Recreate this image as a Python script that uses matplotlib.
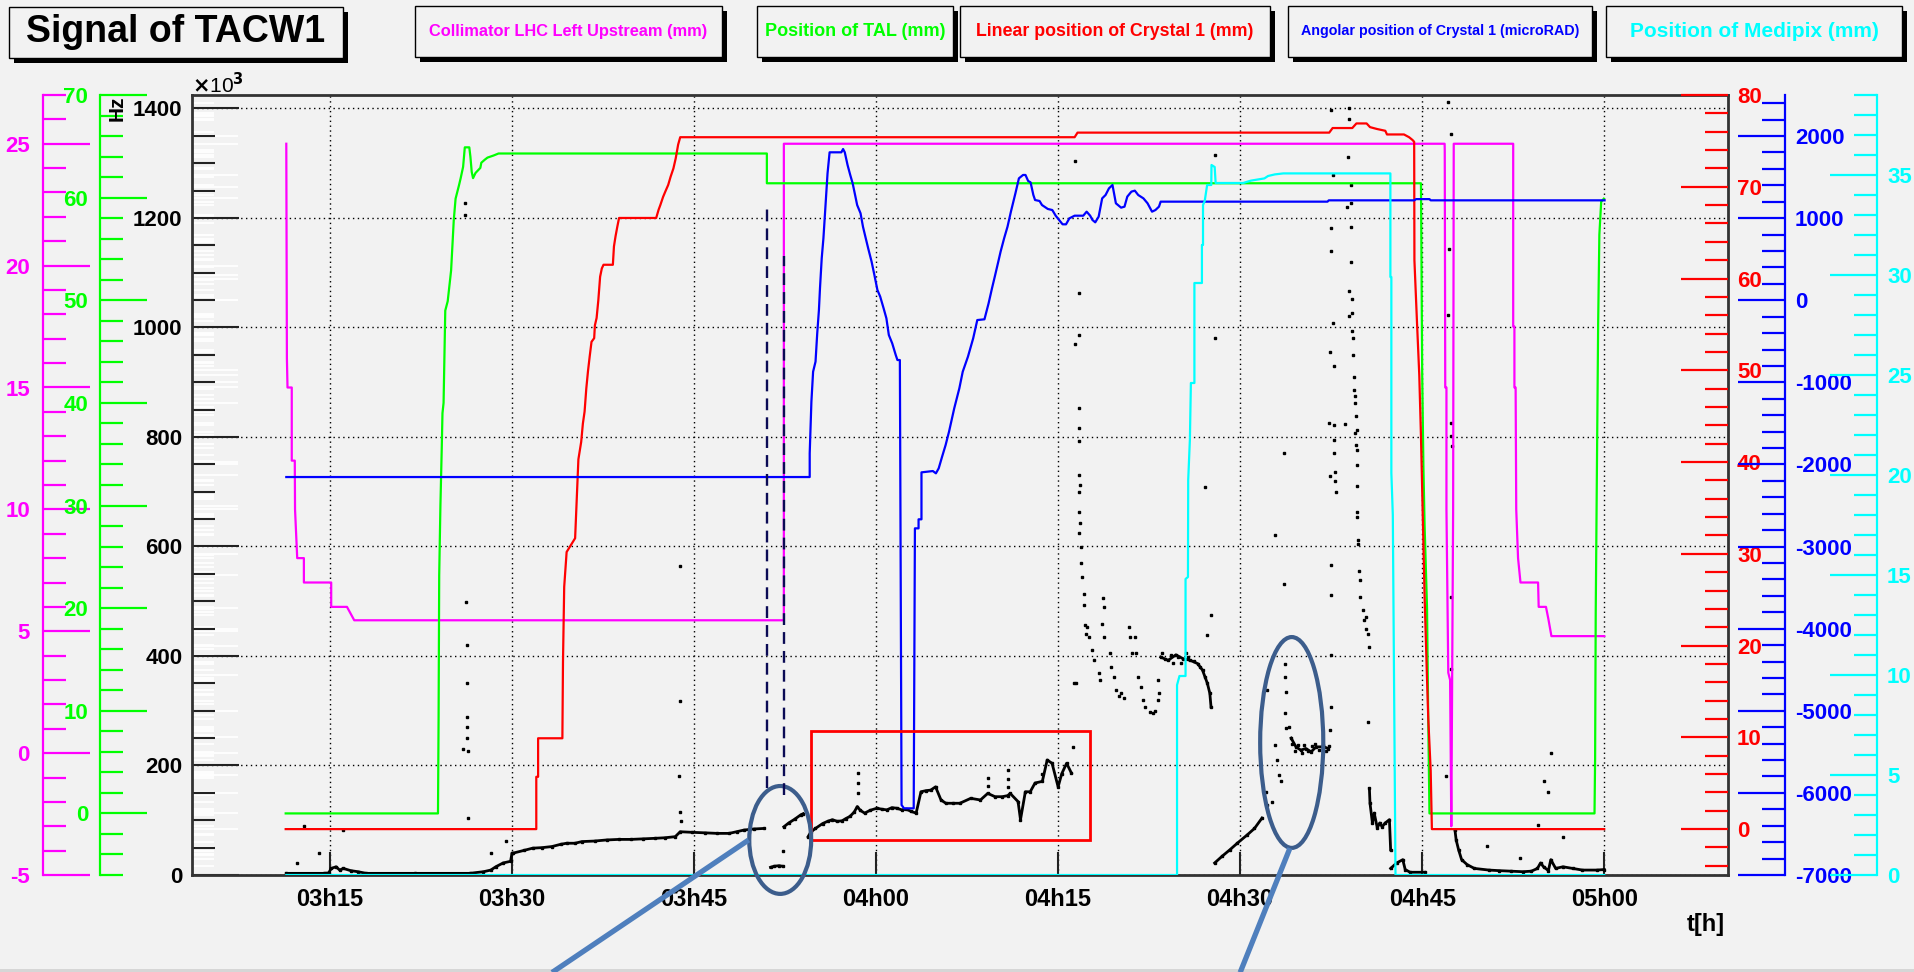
import matplotlib
matplotlib.use("Agg")
import matplotlib.pyplot as plt
from matplotlib.ticker import MultipleLocator, FormatStrFormatter, NullLocator
from matplotlib.patches import Rectangle, Ellipse
from matplotlib.lines import Line2D

plt.rcParams["font.family"] = ["Liberation Sans", "DejaVu Sans"]
plt.rcParams["font.weight"] = "bold"
plt.rcParams["axes.unicode_minus"] = False

W, H = 1915, 972
BG = "#f2f2f2"

# x axis: minutes after 03h00
time_ticks = [15, 30, 45, 60, 75, 90, 105, 120]
time_labels = ["03h15", "03h30", "03h45", "04h00", "04h15", "04h30", "04h45", "05h00"]

# Collimator LHC Left Upstream (mm)
coll_pts = [(11.4, 25.0), (11.45, 16.2), (11.5, 15.0), (11.85, 15.0), (11.85, 12.0), (12.1, 12.0),
            (12.12, 10.0), (12.3, 8.0), (12.85, 8.0), (12.85, 7.0), (15.1, 7.0), (15.1, 6.0),
            (16.4, 6.0), (17.0, 5.45), (52.4, 5.45), (52.4, 25.0), (106.85, 25.0), (106.86, 24.7),
            (106.9, 15.0), (107.0, 15.0), (107.0, 10.0), (107.15, 3.3), (107.3, 3.0), (107.4, -3.0),
            (107.55, 10.0), (107.6, 25.0), (112.5, 25.0), (112.5, 17.5), (112.6, 17.5), (112.6, 15.0),
            (112.7, 15.0), (112.75, 10.0), (112.9, 8.0), (113.1, 7.0), (114.55, 7.0), (114.6, 6.0),
            (115.2, 6.0), (115.4, 5.5), (115.65, 4.8), (120.0, 4.8)]

# Position of TAL (mm)
tal_pts = [(11.35, 0), (23.9, 0), (23.95, 9.4), (24.0, 23.2), (24.1, 30.0), (24.21, 35.6),
           (24.27, 39.0), (24.36, 40.0), (24.5, 49.0), (24.7, 49.9), (24.98, 52.9), (25.07, 54.9),
           (25.2, 57.8), (25.35, 59.9), (25.63, 61.2), (25.77, 61.9), (25.97, 63.0), (26.11, 64.9),
           (26.48, 64.9), (26.57, 64.0), (26.68, 62.5), (26.79, 61.9), (26.99, 62.4), (27.39, 62.9),
           (27.47, 63.4), (27.76, 63.7), (27.98, 63.9), (28.47, 64.1), (28.89, 64.3), (51.0, 64.3),
           (51.0, 61.4), (104.9, 61.4), (104.95, 52.5), (105.0, 42.9), (105.1, 33.8), (105.2, 28.0),
           (105.4, 20.0), (105.5, 9.1), (105.6, 0), (119.2, 0), (119.25, 5.4), (119.3, 19.5),
           (119.4, 33.8), (119.5, 47.7), (119.6, 56.4), (119.75, 59.6), (119.97, 59.9)]

# Linear position of Crystal 1 (mm)
lin_pts = [(11.35, 0), (32.0, 0), (32.0, 5.7), (32.15, 5.7), (32.15, 9.9), (34.15, 9.9),
           (34.2, 18.2), (34.3, 26.4), (34.5, 30.2), (35.2, 31.7), (35.36, 36.8), (35.47, 40.3),
           (35.70, 42.2), (35.84, 44.2), (35.98, 45.5), (36.12, 48.0), (36.26, 49.9), (36.40, 51.5),
           (36.55, 53.1), (36.77, 53.5), (36.83, 54.9), (36.97, 55.7), (37.11, 57.6), (37.26, 60.2),
           (37.40, 61.1), (37.54, 61.5), (38.31, 61.5), (38.40, 63.5), (38.53, 64.6), (38.67, 65.6),
           (38.82, 66.6), (41.88, 66.6), (42.08, 67.5), (42.22, 68.0), (42.45, 68.9), (42.64, 69.5),
           (42.87, 70.2), (43.07, 71.1), (43.30, 72.0), (43.49, 73.1), (43.69, 74.6), (43.86, 75.4),
           (76.36, 75.4), (76.6, 75.9), (97.34, 75.9), (97.62, 76.4), (99.24, 76.4), (99.58, 76.9),
           (100.42, 76.9), (100.7, 76.5), (101.26, 76.3), (101.96, 76.1), (102.1, 75.7), (103.5, 75.7),
           (103.92, 75.4), (104.2, 75.1), (104.34, 74.9), (104.36, 62.0), (104.57, 55.3), (104.76, 49.5),
           (104.9, 42.8), (105.2, 25.3), (105.4, 16.3), (105.5, 12.1), (105.7, 6.4), (105.8, 0), (120.0, 0)]

# Angolar position of Crystal 1 (microRAD)
ang_pts = [(11.4, -2153), (54.53, -2153), (54.53, -1865), (54.67, -1235), (54.81, -870), (55.01, -748),
           (55.15, -403), (55.29, -119), (55.38, 153), (55.52, 511), (55.66, 754), (55.80, 1079),
           (56.00, 1546), (56.17, 1802), (57.14, 1802), (57.28, 1842), (57.42, 1802), (57.65, 1647),
           (57.87, 1526), (58.07, 1424), (58.27, 1282), (58.44, 1160), (58.72, 1059), (58.92, 896),
           (59.15, 754), (59.35, 632), (59.63, 470), (59.86, 308), (60.11, 125), (60.34, 44),
           (60.62, -98), (60.85, -220), (61.05, -423), (61.33, -525), (61.62, -667), (61.76, -728),
           (61.96, -728), (62.1, -6147), (62.3, -6188), (63.1, -6188), (63.2, -2778), (63.5, -2778),
           (63.5, -2668), (63.74, -2668), (63.74, -2096), (64.68, -2080), (64.93, -2108), (65.16, -2047),
           (65.44, -1905), (65.73, -1763), (66.01, -1601), (66.44, -1316), (66.86, -1073), (67.14, -870),
           (67.57, -687), (68.0, -464), (68.34, -241), (68.93, -232), (69.27, -38), (69.55, 145),
           (69.78, 287), (70.07, 470), (70.26, 592), (70.55, 754), (70.83, 896), (71.11, 1079),
           (71.48, 1302), (71.77, 1485), (72.11, 1526), (72.31, 1526), (72.53, 1453), (72.73, 1436),
           (72.96, 1282), (73.10, 1221), (73.47, 1209), (73.67, 1160), (74.15, 1112), (74.52, 1099),
           (74.80, 1030), (75.08, 978), (75.37, 925), (75.65, 925), (75.93, 998), (76.36, 1030),
           (77.07, 1030), (77.35, 1079), (77.64, 1030), (77.83, 978), (78.06, 949), (78.34, 1018),
           (78.63, 1241), (78.91, 1282), (79.19, 1363), (79.48, 1404), (79.76, 1181), (80.19, 1128),
           (80.47, 1140), (80.70, 1262), (81.04, 1323), (81.32, 1335), (81.60, 1282), (82.03, 1241),
           (82.37, 1181), (82.74, 1079), (83.02, 1099), (83.31, 1140), (83.45, 1201), (97.2, 1201),
           (97.3, 1217), (104.34, 1217), (104.5, 1232), (105.6, 1232), (105.7, 1217), (120.03, 1217)]

# Position of Medipix (mm)
medi_pts = [(11.4, 0), (84.8, 0), (84.8, 9.5), (85.0, 9.95), (85.5, 9.95), (85.5, 14.8), (85.7, 14.9),
            (85.72, 19.75), (85.86, 21.8), (85.94, 24.6), (86.23, 24.6), (86.23, 29.6), (86.85, 29.6),
            (86.85, 31.5), (86.94, 31.5), (86.94, 33.5), (87.08, 33.7), (87.28, 34.5), (87.62, 34.5),
            (87.64, 35.5), (87.9, 35.4), (87.98, 34.6), (90.25, 34.6), (90.62, 34.67), (90.9, 34.72),
            (92.0, 34.83), (92.3, 34.95), (92.86, 35.03), (93.56, 35.08), (102.38, 35.08), (102.38, 29.9),
            (102.46, 29.9), (102.46, 20.1), (102.58, 18.0), (102.8, 0), (120.0, 0)]

# Signal of TACW1 (Hz x 10^3): dense runs of points
sig_runs = {
    "base": [(11.4, 3), (14.5, 3), (14.9, 4), (15.1, 12), (15.5, 15), (15.8, 9), (16.1, 12), (16.7, 8),
             (17.3, 6), (18.0, 3), (22.0, 3), (26.5, 3), (27.65, 6), (28.25, 9), (28.66, 15), (29.27, 22),
             (29.88, 25), (30.0, 40), (30.1, 40), (31.0, 45), (31.7, 49), (32.5, 50), (33.3, 52), (34.0, 56),
             (34.5, 58), (35.2, 58), (35.75, 61), (36.8, 62), (37.8, 64), (38.8, 65), (39.8, 65), (40.8, 66),
             (41.8, 67), (42.6, 68), (43.45, 70), (43.86, 79), (44.8, 78), (45.9, 77), (46.9, 76),
             (47.9, 76), (48.5, 79), (49.1, 82), (49.9, 84), (50.75, 85)],
    "gap": [(51.3, 14), (51.6, 16), (52.0, 17), (52.3, 16)],
    "rise": [(52.4, 88), (52.8, 95), (53.3, 102), (53.8, 110), (54.0, 112)],
    "box": [(54.4, 70), (54.6, 78), (55.0, 85), (55.6, 94), (56.0, 98), (56.4, 101), (56.8, 98),
            (57.2, 99), (57.5, 103), (57.85, 107), (58.2, 115), (58.45, 125), (58.7, 118), (59.06, 113),
            (59.5, 118), (60.07, 122), (60.5, 120), (60.89, 119), (61.3, 123), (61.7, 122), (62.1, 119),
            (62.5, 120), (62.9, 116), (63.3, 113), (63.7, 152), (64.1, 154), (64.5, 155), (64.9, 161),
            (65.35, 137), (65.75, 131), (66.3, 131), (66.9, 131), (67.8, 140), (68.6, 137), (69.2, 149),
            (69.8, 143), (70.4, 143), (70.85, 145), (71.05, 149), (71.7, 134), (71.9, 101), (72.3, 152),
            (72.7, 152), (73.1, 168), (73.7, 171), (74.1, 210), (74.5, 204), (75.0, 161), (75.3, 185),
            (75.7, 204), (76.1, 186)],
    "blob": [(83.45, 398), (84.07, 392), (84.7, 402), (85.3, 395), (85.9, 392), (86.5, 386), (86.9, 374),
             (87.1, 362), (87.3, 350), (87.5, 332), (87.6, 307)],
    "ramp": [(87.9, 22), (88.5, 34), (89.15, 46), (89.76, 58), (90.57, 73), (91.18, 85), (91.8, 104)],
    "cluster": [(94.2, 250), (94.6, 234), (95.0, 228), (95.4, 231), (95.85, 225), (96.26, 234),
                (96.87, 234), (97.28, 231)],
    "lump": [(100.65, 158), (100.7, 131), (100.9, 95), (101.05, 113), (101.3, 86), (101.5, 95),
             (101.7, 88), (101.95, 95), (102.3, 101), (102.4, 46)],
    "low": [(102.4, 12), (102.9, 22), (103.4, 28), (103.6, 10), (104.0, 5), (105.2, 5)],
    "decay": [(107.7, 82), (107.8, 64), (108.0, 46), (108.25, 28), (108.7, 19), (109.3, 12), (110.5, 9),
              (111.3, 8), (112.3, 7), (113.3, 6), (114.0, 7), (114.5, 12), (114.75, 22), (115.0, 15),
              (115.4, 8), (115.6, 28), (116.0, 12), (116.6, 15), (117.4, 12), (118.2, 9), (119.4, 9),
              (120.0, 10)],
}

# Signal of TACW1: isolated points
sig_dots = [(12.3, 22), (12.85, 90), (14.1, 41), (16.1, 82),
            (26.0, 230), (26.1, 1227), (26.1, 1205), (26.2, 499), (26.25, 420), (26.25, 351), (26.25, 288),
            (26.3, 271), (26.3, 251), (26.35, 227), (26.4, 104), (28.3, 40), (29.5, 63),
            (43.8, 181), (43.86, 564), (43.86, 318), (43.86, 115), (43.9, 98), (52.37, 43),
            (58.5, 186), (58.5, 168), (58.55, 150), (69.2, 177), (69.2, 163), (70.85, 192), (70.9, 176),
            (70.9, 160), (73.7, 185), (76.2, 234),
            (76.36, 1303), (76.7, 1063), (76.7, 987), (76.36, 970), (76.7, 853), (76.7, 816), (76.7, 792),
            (76.7, 731), (76.8, 713), (76.75, 700), (76.7, 663), (76.8, 642), (76.7, 624), (76.9, 599),
            (76.9, 569), (76.95, 545), (77.1, 514), (77.1, 493), (77.2, 456), (77.3, 441), (76.3, 350),
            (76.5, 350), (77.36, 453), (77.56, 435), (77.76, 411), (77.97, 393), (78.37, 368), (78.46, 356),
            (78.7, 505), (78.78, 490), (78.58, 459), (78.78, 435), (79.27, 405), (79.39, 380), (79.59, 362),
            (79.8, 338), (80.0, 326), (80.2, 332), (80.4, 323), (80.8, 453), (80.9, 435), (81.1, 405),
            (81.3, 435), (81.4, 405), (81.6, 362), (81.8, 344), (82.0, 319), (82.2, 307), (82.6, 298),
            (82.8, 295), (83.0, 300), (83.25, 356), (83.3, 332), (83.25, 319),
            (83.6, 405), (83.8, 395), (84.3, 402), (84.5, 388), (84.9, 398), (85.1, 388), (85.5, 405),
            (85.7, 398), (86.2, 390), (86.7, 380), (87.3, 438), (87.6, 475), (87.1, 708), (87.9, 981),
            (87.9, 1315),
            (92.1, 152), (92.2, 128), (92.6, 134), (92.9, 237), (93.0, 210), (93.2, 183), (93.4, 171),
            (93.6, 532), (93.7, 295), (93.7, 362), (93.7, 385), (93.8, 268), (93.8, 335), (92.9, 620),
            (92.2, 337), (94.0, 271), (93.6, 771),
            (94.3, 240), (94.5, 226), (94.8, 238), (95.1, 222), (95.3, 238), (95.6, 226), (95.9, 236),
            (96.2, 240), (96.5, 228), (96.8, 238), (97.1, 226), (97.3, 236),
            (97.48, 1397), (97.62, 1278), (97.48, 1181), (97.48, 1139), (97.62, 1008), (97.4, 955),
            (97.76, 929), (97.34, 826), (97.76, 822), (97.76, 795), (97.76, 771), (97.4, 728), (97.84, 736),
            (97.84, 719), (97.9, 700), (97.45, 566), (97.5, 511), (97.45, 402), (97.45, 307), (97.4, 265),
            (99.0, 1400), (99.0, 1380), (98.9, 1312), (99.1, 1260), (99.1, 1227), (98.8, 1219),
            (99.15, 1184), (99.1, 1120), (99.0, 1066), (99.2, 1052), (99.0, 1021), (99.2, 1026),
            (99.25, 994), (99.3, 981), (99.3, 950), (99.35, 909), (99.4, 886), (99.45, 874), (99.5, 862),
            (99.55, 838), (98.6, 824), (99.6, 813), (99.45, 807), (99.55, 786), (99.6, 777), (99.6, 748),
            (99.6, 711), (99.6, 663), (99.65, 654), (99.7, 611), (99.7, 605), (99.8, 556), (99.85, 538),
            (99.9, 508), (100.1, 484), (100.2, 465), (100.4, 450), (100.5, 441), (100.6, 417),
            (100.4, 472), (100.5, 280),
            (107.0, 180), (107.1, 1412), (107.4, 1353), (107.2, 1144), (107.1, 1022), (107.4, 826),
            (107.4, 801), (107.45, 783), (107.4, 508), (107.4, 377), (110.3, 53), (113.1, 31),
            (114.55, 92), (115.0, 171), (115.4, 152), (115.6, 222), (116.6, 70)]

# annotations (time, Hz x 10^3)
dash_lines = [(51.0, 158, 1220), (52.45, 146, 1131)]
box_corners = (54.6, 64, 77.6, 263)
ellipses = [(52.1, 64, 5.1, 197), (94.25, 242, 5.2, 385)]
pointers = [((49.5, 64), (33.3, -178)), ((94.1, 49), (90.0, -178))]

# the y scales: (lo, hi, major, minor)
scale_coll = (-5, 27, 5, 1)
scale_tal = (-6, 70, 10, 2)
scale_lin = (-5, 80, 10, 2)
scale_ang = (-7000, 2500, 1000, 200)
scale_medi = (0, 39, 5, 1)


def fx(x):
    return x / W


def fy(y):
    return 1 - y / H


fig = plt.figure(figsize=(W / 100, H / 100), dpi=100, facecolor=BG)
rect = [192 / W, (H - 875) / H, 1536 / W, 780 / H]

# white tick marks showing through along the left frame
for lo, hi, maj, mnr in [scale_coll, scale_tal, scale_lin, scale_ang, scale_medi]:
    g = fig.add_axes(rect, facecolor="none")
    g.set_ylim(lo, hi)
    g.yaxis.set_major_locator(MultipleLocator(maj))
    g.yaxis.set_minor_locator(MultipleLocator(mnr))
    g.tick_params(axis="y", which="both", direction="in", color="white", width=1.3,
                  labelleft=False, right=False)
    g.tick_params(axis="y", which="major", length=33)
    g.tick_params(axis="y", which="minor", length=16)
    g.xaxis.set_visible(False)
    for s in g.spines.values():
        s.set_visible(False)

ax = fig.add_axes(rect, facecolor="none")
ax.set_xlim(3.63, 130.2)
ax.set_ylim(0, 1424.4)

for name, pts in sig_runs.items():
    t, v = zip(*pts)
    ax.plot(t, v, color="black", lw=2.0, marker="s", ms=1.8)
t, v = zip(*sig_dots)
ax.plot(t, v, linestyle="none", color="black", marker="s", ms=2.0)

ax.set_xticks(time_ticks)
ax.set_xticklabels(time_labels)
ax.xaxis.set_minor_locator(NullLocator())
ax.yaxis.set_major_locator(MultipleLocator(200))
ax.yaxis.set_minor_locator(MultipleLocator(50))
ax.yaxis.set_major_formatter(FormatStrFormatter("%d"))
ax.grid(True, which="major", color="black", linestyle=(0, (1, 2.5)), linewidth=1.0)
ax.tick_params(axis="both", which="both", direction="in", color="#222222", width=1.5,
               top=False, right=False)
ax.tick_params(axis="y", which="major", length=33.5, pad=7, labelsize=16)
ax.tick_params(axis="y", which="minor", length=16.5)
ax.tick_params(axis="x", which="major", length=16.5, pad=9, labelsize=17)
for s in ax.spines.values():
    s.set_linewidth(2)
    s.set_color("#333333")


def side_axis(scale, color, side, pos, pad):
    lo, hi, maj, mnr = scale
    a = ax.twinx()
    a.set_ylim(lo, hi)
    for s in a.spines.values():
        s.set_visible(False)
    a.yaxis.set_ticks_position(side)
    if pos is not None:
        a.spines[side].set_visible(True)
        a.spines[side].set_position(("axes", pos))
        a.spines[side].set_color(color)
        a.spines[side].set_linewidth(1.6)
    a.yaxis.set_major_locator(MultipleLocator(maj))
    a.yaxis.set_minor_locator(MultipleLocator(mnr))
    a.yaxis.set_major_formatter(FormatStrFormatter("%d"))
    a.tick_params(axis="y", which="both", direction="in", colors=color, width=1.6,
                  labelsize=16, pad=pad)
    a.tick_params(axis="y", which="major", length=33.5)
    a.tick_params(axis="y", which="minor", length=16.5)
    return a


series = [
    (coll_pts, scale_coll, "#ff00ff", "left", (43 - 192) / 1536, 9.4),
    (tal_pts, scale_tal, "#00ff00", "left", (100 - 192) / 1536, 8.6),
    (lin_pts, scale_lin, "#ff0000", "right", None, 6.5),
    (ang_pts, scale_ang, "#0000ff", "right", (1785 - 192) / 1536, 7.2),
    (medi_pts, scale_medi, "#00ffff", "right", (1877 - 192) / 1536, 7.2),
]
for pts, scale, color, side, pos, pad in series:
    a = side_axis(scale, color, side, pos, pad)
    t, v = zip(*pts)
    a.plot(t, v, color=color, lw=1.6)

# annotations drawn on top of everything
for t, lo, hi in dash_lines:
    fig.add_artist(Line2D([t, t], [lo, hi], transform=ax.transData, color="#0b0b55",
                          lw=1.7, linestyle=(0, (5, 3))))
t0, v0, t1, v1 = box_corners
fig.add_artist(Rectangle((t0, v0), t1 - t0, v1 - v0, transform=ax.transData, fill=False,
                         edgecolor="#ff0000", lw=2.0))
for (p0, p1) in pointers:
    fig.add_artist(Line2D([p0[0], p1[0]], [p0[1], p1[1]], transform=ax.transData,
                          color="#4f7fbd", lw=3.8, solid_capstyle="butt"))
for cx, cy, w, h in ellipses:
    fig.add_artist(Ellipse((cx, cy), w, h, transform=ax.transData, fill=False,
                           edgecolor="#3c5d8c", lw=3.0))

# title and legend panes (pixel boxes)
panes = [
    ((9, 7, 343, 58), "Signal of TACW1", "black", 27),
    ((415, 6, 722, 57), "Collimator LHC Left Upstream (mm)", "#ff00ff", 11.8),
    ((757, 6, 953, 57), "Position of TAL (mm)", "#00ff00", 13),
    ((960, 6, 1270, 57), "Linear position of Crystal 1 (mm)", "#ff0000", 12.8),
    ((1288, 6, 1592, 57), "Angolar position of Crystal 1 (microRAD)", "#0000ff", 10.3),
    ((1606, 6, 1902, 57), "Position of Medipix (mm)", "#00ffff", 15),
]
for (x0, y0, x1, y1), text, color, size in panes:
    fig.add_artist(Rectangle((fx(x0 + 5), fy(y1 + 5)), (x1 - x0) / W, (y1 - y0) / H,
                             transform=fig.transFigure, facecolor="black", edgecolor="none"))
    fig.add_artist(Rectangle((fx(x0), fy(y1)), (x1 - x0) / W, (y1 - y0) / H,
                             transform=fig.transFigure, facecolor=BG, edgecolor="black", lw=1.0))
    fig.text(fx((x0 + x1) / 2), fy((y0 + y1) / 2), text, color=color, fontsize=size,
             ha="center", va="center", fontweight="bold")

fig.text(fx(192), fy(85), r"$\times$10$^{3}$", fontsize=15, ha="left", va="center",
         fontweight="normal")
fig.text(fx(117), fy(108), "Hz", rotation=90, fontsize=15, ha="center", va="center",
         fontweight="bold")
fig.text(fx(1725), fy(924), "t[h]", fontsize=17, ha="right", va="center", fontweight="bold")
fig.add_artist(Rectangle((0, 0), 1, 3 / H, transform=fig.transFigure, facecolor="#d6d6d6",
                         edgecolor="none"))

fig.savefig("out.png", dpi=100, facecolor=BG)
